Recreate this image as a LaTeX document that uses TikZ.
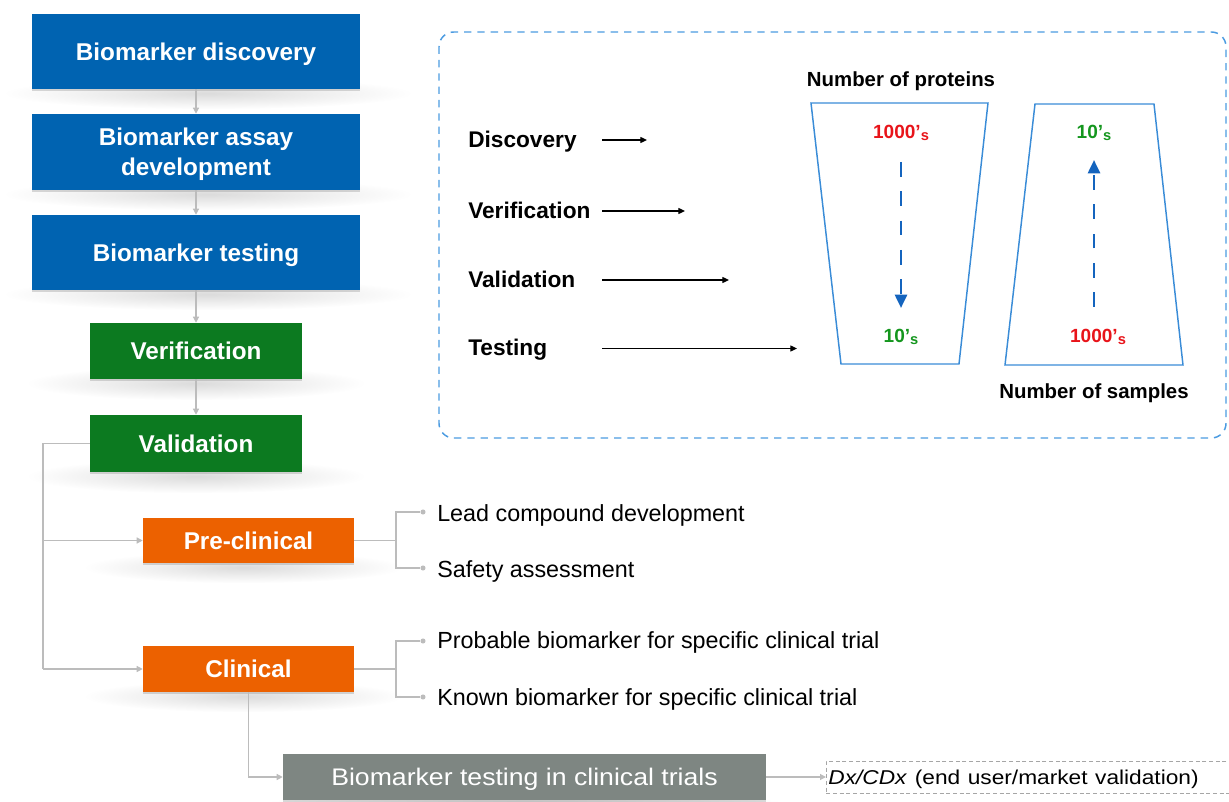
\documentclass[tikz,border=0pt]{standalone}
\usepackage{fontspec}
\setmainfont{Liberation Sans}
\usetikzlibrary{arrows.meta,shadows,calc}
\definecolor{bblue}{RGB}{0,99,177}
\definecolor{bgreen}{RGB}{12,122,32}
\definecolor{borange}{RGB}{236,97,0}
\definecolor{bgray}{RGB}{126,134,130}
\definecolor{conn}{RGB}{188,188,188}
\definecolor{tred}{RGB}{232,20,26}
\definecolor{tgreen}{RGB}{20,150,30}
\definecolor{trap}{RGB}{58,140,215}
\definecolor{panelc}{RGB}{75,155,225}
\definecolor{darrowc}{RGB}{20,100,190}
\pgfdeclarelayer{bg}
\pgfsetlayers{bg,main}
\newcommand{\subS}{\raisebox{-0.8pt}{\fontsize{11}{11}\selectfont s}}
\tikzset{
  box/.style={fill=#1, text=white, inner sep=0pt, align=center, text depth=0pt,
    font=\fontsize{18.2}{22.5}\selectfont\bfseries,
    drop shadow={shadow xshift=0pt, shadow yshift=-1.5pt, opacity=0.3}},
  glow/.style={inner color=black!14, outer color=white},
  cline/.style={draw=conn, line width=0.9pt},
  carrow/.style={cline, -{Triangle[length=4.5pt,width=4.5pt]}},
  cdot/.style={circle, fill=conn, inner sep=0pt, minimum size=3.8pt},
  item/.style={anchor=base west, inner sep=0pt, font=\fontsize{17.5}{20}\selectfont},
  plabel/.style={anchor=base west, inner sep=0pt, font=\fontsize{17}{20}\selectfont\bfseries},
  hdr/.style={anchor=base, inner sep=0pt, font=\fontsize{15.3}{18}\selectfont\bfseries},
  num/.style={anchor=base, inner sep=0pt, font=\fontsize{14.3}{16}\selectfont\bfseries},
  barrow/.style={draw=black, line width=0.95pt, -{Triangle[length=5pt,width=4.5pt]}},
  darr/.style={draw=darrowc, line width=2pt, dash pattern=on 11pt off 11pt, -{Triangle[length=10pt,width=9pt]}},
  trapz/.style={draw=trap, line width=1.1pt, line join=miter},
  panelbox/.style={draw=panelc, line width=1.1pt, dash pattern=on 5.5pt off 4.5pt, rounded corners=11pt},
  dxbox/.style={draw=black!35, line width=0.6pt, dash pattern=on 3pt off 2pt, minimum height=24pt,
    text width=340pt, align=left, inner xsep=1.5pt, inner ysep=0pt, text depth=0pt,
    font=\fontsize{15}{18}\selectfont}
}
\begin{document}
\begin{tikzpicture}[x=0.75pt,y=-0.75pt]
\useasboundingbox (0,0) rectangle (1229,802);

% ---------- left flow boxes ----------
\node[box=bblue, minimum width=246pt, minimum height=56.25pt] (b1) at (196,51.5) {Biomarker discovery};
\node[box=bblue, minimum width=246pt, minimum height=57pt] (b2) at (196,152) {Biomarker assay\\development};
\node[box=bblue, minimum width=246pt, minimum height=56.25pt] (b3) at (196,252.5) {Biomarker testing};
\node[box=bgreen, minimum width=159pt, minimum height=42pt] (v1) at (196,351) {Verification};
\node[box=bgreen, minimum width=159pt, minimum height=42.75pt] (v2) at (196,443.5) {Validation};
\node[box=borange, minimum width=158.25pt, minimum height=33.75pt] (pre) at (248.5,540.5) {Pre-clinical};
\node[box=borange, minimum width=158.25pt, minimum height=34.5pt] (cli) at (248.5,669) {Clinical};
\node[box=bgray, font=\fontsize{18}{22}\selectfont, minimum width=362.25pt, minimum height=34.5pt] (gt) at (524.5,777)
  {\scalebox{1.11}[1]{Biomarker testing in clinical trials}};
\node[dxbox, anchor=west] (dx) at (826,777)
  {\scalebox{1.135}[1]{\textit{Dx/CDx} (end user/market validation)}};

% glows under boxes
\begin{pgfonlayer}{bg}
\shade[glow] ($(b1.south)+(12,4)$) ellipse (205 and 16);
\shade[glow] ($(b2.south)+(12,4)$) ellipse (205 and 16);
\shade[glow] ($(b3.south)+(12,4)$) ellipse (205 and 16);
\shade[glow] ($(v1.south)+(0,4)$) ellipse (170 and 17);
\shade[glow] ($(v2.south)+(0,4)$) ellipse (170 and 17);
\shade[glow] ($(pre.south)+(-5,4)$) ellipse (160 and 16);
\shade[glow] ($(cli.south)+(-5,4)$) ellipse (160 and 16);
\shade[glow] ($(gt.south)+(0,2)$) ellipse (260 and 8);
\end{pgfonlayer}

% vertical connectors
\draw[carrow] (b1.south) -- (b2.north);
\draw[carrow] (b2.south) -- (b3.north);
\draw[carrow] (b3.south) -- (v1.north);
\draw[carrow] (v1.south) -- (v2.north);

% validation branch
\coordinate (lt) at (43,443.5);
\coordinate (lb) at (43,669);
\draw[cline] (v2.west) -- (lt) -- (lb);
\draw[carrow] (lt |- pre.west) -- (pre.west);
\draw[carrow] (lb) -- (cli.west);

% clinical to testing in trials
\draw[carrow] (cli.south) |- (gt.west);
\draw[carrow] (gt.east) -- (dx.west);

% pre-clinical items
\coordinate (pj) at (396,540.5);
\node[cdot] (d1) at (423,512) {};
\node[cdot] (d2) at (423,568) {};
\draw[cline] (pre.east) -- (pj);
\draw[cline] (d1) -| (pj) |- (d2);
\node[item] (t1) at (437,521.5) {Lead compound development};
\node[item] (t2) at (437,577) {Safety assessment};

% clinical items
\coordinate (cj) at (396,669);
\node[cdot] (d3) at (423,641) {};
\node[cdot] (d4) at (423,697) {};
\draw[cline] (cli.east) -- (cj);
\draw[cline] (d3) -| (cj) |- (d4);
\node[item] (t3) at (437,648.5) {Probable biomarker for specific clinical trial};
\node[item] (t4) at (437,705) {Known biomarker for specific clinical trial};

% ---------- right panel ----------
\draw[panelbox] (439,32) rectangle (1226,438);

\node[plabel] (ldis) at (468,148) {Discovery};
\node[plabel] (lver) at (468,219) {Verification};
\node[plabel] (lval) at (468,288) {Validation};
\node[plabel] (ltes) at (468,356) {Testing};
\coordinate (s1) at (602,140);   \coordinate (e1) at (647,140);
\coordinate (s2) at (602,211);   \coordinate (e2) at (685,211);
\coordinate (s3) at (602,280);   \coordinate (e3) at (729,280);
\coordinate (s4) at (602,348.5); \coordinate (e4) at (797,348.5);
\draw[barrow] (s1) -- (e1);
\draw[barrow] (s2) -- (e2);
\draw[barrow] (s3) -- (e3);
\draw[barrow] (s4) -- (e4);

\node[hdr] (np) at (901,86.5) {Number of proteins};
\node[hdr] (ns) at (1094,399) {Number of samples};

\draw[trapz] (811,103) -- (988,103) -- (959,364) -- (841,364) -- cycle;
\draw[trapz] (1035,104) -- (1154,104) -- (1183,365) -- (1005,365) -- cycle;

\node[num, text=tred] (p1) at (901,139) {1000’\subS};
\node[num, text=tgreen] (p2) at (901,343) {10’\subS};
\node[num, text=tgreen] (s10) at (1094,139) {10’\subS};
\node[num, text=tred] (s1000) at (1098,343) {1000’\subS};

\coordinate (da1) at (901,162);  \coordinate (da2) at (901,308);
\coordinate (ua1) at (1094,307); \coordinate (ua2) at (1094,160);
\draw[darr] (da1) -- (da2);
\draw[darr] (ua1) -- (ua2);
\end{tikzpicture}
\end{document}
